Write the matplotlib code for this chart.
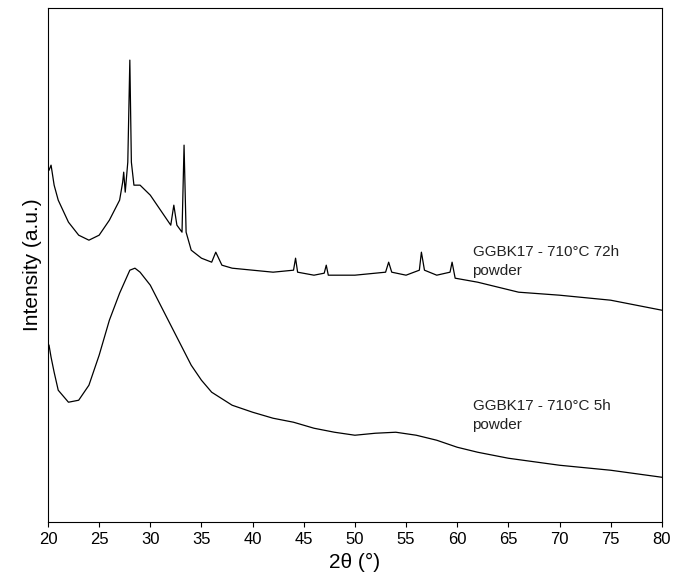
import numpy as np
import matplotlib.pyplot as plt

plt.rcParams['font.family'] = ['Liberation Sans', 'DejaVu Sans']

# values (arbitrary intensity units)
two_theta_72h = [20.1, 20.3, 20.6, 21, 22, 23, 24, 25, 26, 27, 27.3, 27.4, 27.55, 27.8, 28.0, 28.15, 28.4,
                 29, 30, 31, 32, 32.3, 32.6, 33.1, 33.3, 33.5, 34, 35, 36, 36.4, 37, 38, 40, 42, 44,
                 44.2, 44.4, 46, 47.0, 47.2, 47.4, 50, 53, 53.3, 53.6, 55, 56.3, 56.5, 56.8, 58, 59.3,
                 59.5, 59.8, 62, 64, 66, 70, 75, 80]
intensity_72h = [352, 357, 337, 322, 300, 287, 282, 287, 302, 322, 340, 350, 330, 360, 462, 360, 337,
                 337, 327, 312, 297, 317, 297, 290, 377, 290, 272, 264, 260, 270, 257, 254, 252, 250, 252,
                 264, 250, 247, 249, 257, 247, 247, 250, 260, 250, 247, 252, 270, 252, 247, 250,
                 260, 244, 240, 235, 230, 227, 222, 212]

two_theta_5h = [20.1, 20.3, 20.6, 21, 22, 23, 24, 25, 26, 27, 28, 28.5, 29, 30, 31, 32, 33, 34, 35, 36,
                38, 40, 42, 44, 46, 48, 50, 52, 54, 56, 58, 60, 62, 65, 70, 75, 80]
intensity_5h = [177, 165, 150, 132, 120, 122, 137, 167, 202, 229, 252, 254, 250, 237, 217, 197, 177, 157,
                142, 130, 117, 110, 104, 100, 94, 90, 87, 89, 90, 87, 82, 75, 70, 64, 57, 52, 45]

fig = plt.figure(figsize=(6.76, 5.79), dpi=100)
ax = fig.add_axes([0.071, 0.098, 0.908, 0.888])
ax.plot(two_theta_72h, intensity_72h, color='black', lw=0.9)
ax.plot(two_theta_5h, intensity_5h, color='black', lw=0.9)

ax.text(61.5, 270, 'GGBK17 - 710°C 72h', fontsize=11, va='center', color='#222222')
ax.text(61.5, 251, 'powder', fontsize=11, va='center', color='#222222')
ax.text(61.5, 116, 'GGBK17 - 710°C 5h', fontsize=11, va='center', color='#222222')
ax.text(61.5, 97, 'powder', fontsize=11, va='center', color='#222222')

ax.set_xlim(20, 80)
ax.set_ylim(0, 514)
ax.set_xticks(np.arange(20, 81, 5))
ax.set_yticks([])
ax.tick_params(axis='x', labelsize=12)
ax.set_xlabel('2θ (°)', fontsize=15)
ax.set_ylabel('Intensity (a.u.)', fontsize=15)

fig.savefig('out.png', dpi=100)
